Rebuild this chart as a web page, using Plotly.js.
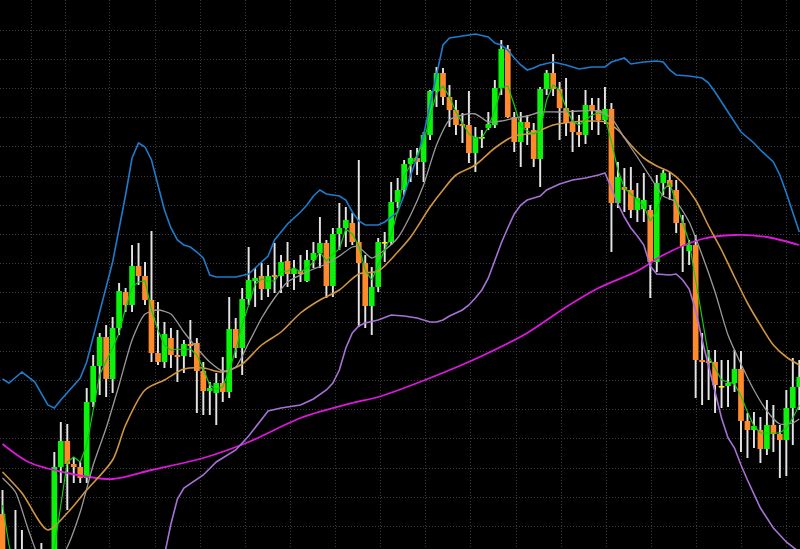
<!DOCTYPE html>
<html>
<head>
<meta charset="utf-8">
<script src="https://cdn.plot.ly/plotly-3.0.1.min.js"></script>
<style>html,body{margin:0;padding:0;background:#000;}#chart{width:800px;height:549px;}</style>
</head>
<body>
<div id="chart"></div>
<script>
// Price axis is drawn inverted (values grow downward), bar index on x.
const open = [514,560,578,562,575,585,592,572,576,467,
  441,464,467,478,402,366,337,379,328,292,
  305,266,276,300,353,362,338,355,356,344,
  343,371,391,393,383,392,329,348,299,281,
  276,289,275,276,261,274,271,281,260,253,
  243,286,234,228,223,242,263,306,287,242,
  242,202,190,164,158,162,135,91,73,97,
  110,124,125,153,137,128,125,88,49,117,
  142,122,130,159,89,73,89,108,123,132,
  135,105,110,120,109,203,187,190,210,209,
  210,262,183,180,190,223,251,245,360,361,
  362,386,386,383,369,421,430,430,449,425,
  434,440,408,387];
const high = [490,552,510,530,556,560,543,555,452,422,
  424,457,462,388,355,333,325,317,283,288,
  245,243,262,231,302,322,328,330,340,320,
  338,362,382,373,357,297,318,288,247,268,
  263,265,243,255,242,260,255,250,242,217,
  240,228,203,207,213,160,255,267,238,232,
  182,178,160,150,148,132,90,67,68,85,
  100,113,91,127,130,112,80,40,45,112,
  112,115,123,87,70,54,82,78,110,115,
  90,98,98,87,103,162,168,167,183,173,
  205,175,170,172,180,215,240,235,333,350,
  350,360,360,350,351,413,412,417,400,405,
  425,390,358,360];
const low = [575,590,595,590,600,610,605,600,590,483,
  510,483,483,483,407,395,397,393,335,312,
  312,285,305,362,365,368,368,382,373,357,
  413,415,415,425,402,398,358,375,305,307,
  300,297,293,293,287,290,282,282,268,268,
  298,297,250,247,245,327,328,335,292,262,
  245,208,195,182,175,182,140,107,105,127,
  135,143,163,172,148,130,128,95,118,152,
  167,145,167,187,95,96,140,136,152,147,
  144,130,135,124,252,208,212,218,222,222,
  298,272,195,200,233,272,265,398,405,400,
  413,408,407,392,452,458,448,463,455,452,
  478,476,445,410];
const close = [560,578,562,575,585,592,572,576,467,441,
  464,467,478,402,366,337,379,328,291,305,
  266,276,300,353,362,334,355,357,344,346,
  371,391,388,383,392,329,348,299,280,278,
  289,276,277,262,274,269,274,260,253,243,
  286,234,228,220,242,263,306,287,242,242,
  202,190,164,158,162,135,91,73,97,110,
  125,126,153,137,137,124,88,49,117,142,
  122,128,159,89,73,89,108,123,132,135,
  105,110,120,109,203,177,190,210,198,200,
  262,183,173,187,223,246,245,360,362,363,
  385,386,383,369,421,430,426,449,425,434,
  440,408,387,377];

// fast moving average (green), one value per bar
const fastMA = [505,545,570,572,574,584,583,580,548,505,
  462,457,462,445,410,375,361,348,333,308,
  287,282,281,310,330,345,350,349,350,349,
  355,369,385,389,387,370,350,325,305,284,
  279,281,281,272,271,268,272,268,262,252,
  261,254,249,229,234,246,270,280,265,250,
  235,211,176,165,155,142,118,93,86,97,
  112,123,134,138,138,127,110,88,86,105,
  126,131,134,130,100,85,90,108,121,125,
  120,115,113,116,142,170,188,194,200,206,
  221,210,190,183,203,222,242,280,320,356,
  368,380,382,384,396,412,426,433,433,433,
  433,428,418,405];

const grayIdx = [0,2,4,6,8,10,12,14,16,18,20,22,24,26,28,30,32,34,36,38,40,42,44,46,48,50,52,54,55,57,59,61,63,65,67,69,71,73,75,77,79,81,83,86,89,92,94,96,98,100,102,104,106,108,110,112,114,116,118,120,122,123];
const grayVal = [478,492,530,562,568,547,512,465,428,385,340,314,310,314,332,348,362,371,367,343,318,298,282,275,269,264,256,247,247,258,250,238,215,185,145,120,115,114,122,121,118,116,112,112,111,111,118,138,157,177,196,202,222,255,292,335,364,390,411,424,423,419];

const tanIdx = [0,3,7,10,13,17,19,22,25,28,31,34,37,40,43,46,49,52,55,58,61,63,66,68,70,73,76,79,82,85,88,91,93,95,97,99,101,103,105,107,109,111,113,115,117,119,121,123];
const tanVal = [472,493,530,513,490,460,425,390,380,369,368,372,364,345,332,313,300,290,274,271,252,237,207,190,175,165,148,136,133,125,122,121,122,130,145,158,166,172,183,200,226,250,277,303,325,345,357,365];

const upperIdx = [0,1,3,5,7,8,9,12,13,15,17,19,20,21,22,23,24,25,26,27,28,29,30,31,32,33,36,38,39,41,42,44,46,47,48,49,50,52,53,54,55,56,58,59,61,62,63,64,65,66,67,68,69,71,73,75,76,77,78,79,80,81,82,83,85,87,89,91,93,94,96,97,99,101,102,103,104,106,108,109,110,112,114,116,117,119,120,121,122,123];
const upperVal = [379,383,372,382,405,408,400,378,362,312,262,195,158,143,147,160,185,210,228,240,245,247,252,258,275,277,277,274,268,256,240,224,212,205,196,190,194,196,200,212,221,225,225,222,212,195,175,158,135,105,75,45,38,36,34,37,43,45,50,58,65,70,68,65,62,65,69,67,67,62,58,64,62,61,62,70,75,76,78,83,92,112,132,143,150,162,175,193,212,232];

const lowerIdx = [24,25,26,27,28,30,31,33,36,38,39,40,41,43,46,48,50,51,52,53,54,55,56,58,60,62,64,66,67,68,69,71,72,73,74,75,76,77,78,79,80,81,82,83,84,86,88,90,92,93,94,95,96,97,98,99,100,101,103,104,105,106,107,108,109,110,111,112,113,114,115,117,119,121,123];
const lowerVal = [580,555,524,499,488,479,475,462,450,436,428,420,411,408,405,399,390,383,370,348,333,326,323,320,315,316,318,322,322,320,316,310,305,298,290,278,260,243,228,214,205,200,198,196,190,184,180,178,175,173,188,204,217,228,236,245,266,274,275,274,280,289,310,340,366,392,418,438,448,465,480,508,528,542,552];

const slowIdx = [0,4,10,17,23,31,38,46,54,58,66,74,81,87,92,98,102,108,113,118,123];
const slowVal = [444,462,473,479,470,458,442,418,403,397,378,356,333,307,288,271,255,239,235,237,245];

// dotted grid positions
const gridX = [4.4,9.65,16.59,23.56,30.52,37.48,44.44,51.42,58.38,65.35,72.31,79.27,86.23,93.19,100.15,107.12,114.08,121.06];
const gridY = [30,59.2,88.4,117.6,146.8,176,205.2,234.4,263.6,292.8,322,351.2,380.4,409.6,438.8,468,497.2,526.4];

const idx = open.map((_, i) => i);
const bodyBase = idx.map(i => Math.min(open[i], close[i]));
const bodyLen = idx.map(i => Math.max(Math.abs(close[i] - open[i]), 1.6));
const bodyCol = idx.map(i => close[i] < open[i] ? '#0BF20B' : (close[i] > open[i] ? '#FF8A2B' : '#FFF200'));

const traces = [
  {type:'bar', x:idx, base:high, y:idx.map(i => low[i]-high[i]), width:0.3,
   marker:{color:'#E4E4E4', line:{width:0}}, hoverinfo:'skip'},
  {type:'bar', x:idx, base:bodyBase, y:bodyLen, width:0.88,
   marker:{color:bodyCol, line:{width:0}}, hoverinfo:'skip'},
  {type:'scatter', mode:'lines', x:slowIdx, y:slowVal, line:{color:'#DD18DD', width:1.8, shape:'spline', smoothing:0.8}},
  {type:'scatter', mode:'lines', x:upperIdx, y:upperVal, line:{color:'#1F7BCC', width:1.6}},
  {type:'scatter', mode:'lines', x:lowerIdx, y:lowerVal, line:{color:'#A772D6', width:1.6}},
  {type:'scatter', mode:'lines', x:tanIdx, y:tanVal, line:{color:'#D2963F', width:1.6, shape:'spline', smoothing:0.8}},
  {type:'scatter', mode:'lines', x:grayIdx, y:grayVal, line:{color:'#9A9A9A', width:1.3, shape:'spline', smoothing:0.6}},
  {type:'scatter', mode:'lines', x:idx, y:fastMA, line:{color:'#12CC12', width:1.2}}
];

const layout = {
  width:800, height:549,
  margin:{l:0, r:0, t:0, b:0, pad:0},
  paper_bgcolor:'#000000', plot_bgcolor:'#000000',
  showlegend:false, hovermode:false, barmode:'overlay',
  xaxis:{range:[-0.386, 123.11], tickvals:gridX, showticklabels:false, ticks:'',
         showgrid:true, gridcolor:'#3c3c3c', griddash:'1px,2px', gridwidth:1,
         zeroline:false, showline:false, fixedrange:true},
  yaxis:{range:[549, 0], tickvals:gridY, showticklabels:false, ticks:'',
         showgrid:true, gridcolor:'#3c3c3c', griddash:'1px,2px', gridwidth:1,
         zeroline:false, showline:false, fixedrange:true}
};

Plotly.newPlot('chart', traces, layout, {staticPlot:true, displayModeBar:false});
</script>
</body>
</html>
